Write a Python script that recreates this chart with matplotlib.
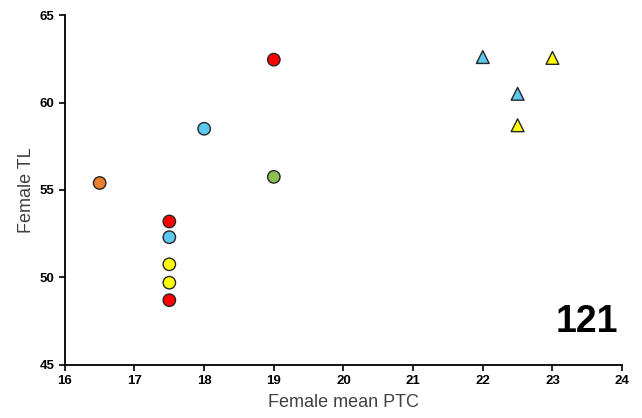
import matplotlib.pyplot as plt

plt.rcParams['font.family'] = ['Liberation Sans', 'DejaVu Sans']

# circles
circ_x = [16.5, 17.5, 17.5, 17.5, 17.5, 17.5, 18.0, 19.0, 19.0]
circ_y = [55.4, 53.2, 52.3, 50.75, 49.7, 48.7, 58.5, 62.45, 55.75]
circ_c = ['#ED7D31', '#FF0000', '#5BC8EE', '#FFFF00', '#FFFF00', '#FF0000',
          '#5BC8EE', '#FF0000', '#8CC152']

# triangles
tri_x = [22.0, 23.0, 22.5, 22.5]
tri_y = [62.6, 62.55, 60.5, 58.7]
tri_c = ['#5BC8EE', '#FFFF00', '#5BC8EE', '#FFFF00']

xticks = [16, 17, 18, 19, 20, 21, 22, 23, 24]
yticks = [45, 50, 55, 60, 65]

fig = plt.figure(figsize=(6.42, 4.18), dpi=100)
ax = fig.add_axes([0.101, 0.127, 0.868, 0.837])

ax.scatter(circ_x, circ_y, s=80, c=circ_c, edgecolors='#262626', linewidths=1.0, zorder=3)
ax.scatter(tri_x, tri_y, s=85, marker='^', c=tri_c, edgecolors='#262626', linewidths=1.0, zorder=3)

ax.set_xlim(16, 24)
ax.set_ylim(45, 65)
ax.set_xticks(xticks)
ax.set_yticks(yticks)
ax.tick_params(direction='out', length=4, width=1.2, labelsize=9.5)
for lab in ax.get_xticklabels() + ax.get_yticklabels():
    lab.set_fontweight('bold')
for s in ['top', 'right']:
    ax.spines[s].set_visible(False)
for s in ['left', 'bottom']:
    ax.spines[s].set_linewidth(1.3)

ax.set_xlabel('Female mean PTC', fontsize=13, color='#404040', labelpad=5)
ax.set_ylabel('Female TL', fontsize=13, color='#404040', labelpad=3)

ax.text(23.94, 47.45, '121', fontsize=27, fontweight='bold', ha='right', va='center')

fig.savefig('out.png', dpi=100)
